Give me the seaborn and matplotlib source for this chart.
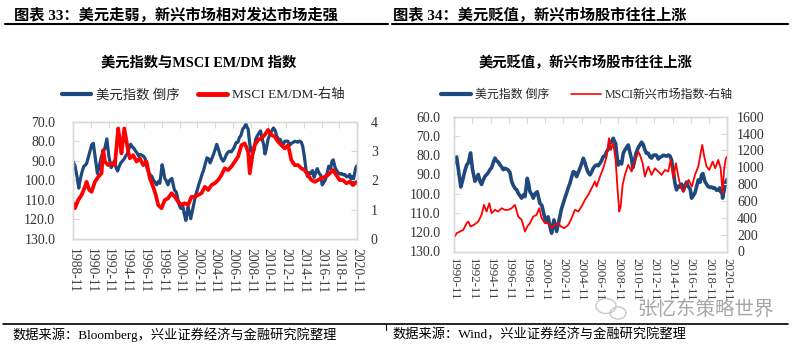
import matplotlib
matplotlib.use('Agg')
import matplotlib.pyplot as plt
import seaborn as sns
from matplotlib.lines import Line2D
from matplotlib.patches import Ellipse

# ---------------- data (decimal years; Nov = .83) ----------------
usd_t = [1988.83, 1989.02, 1989.25, 1989.45, 1989.6, 1989.8, 1990.0, 1990.33, 1990.6, 1990.9,
         1991.09, 1991.38, 1991.55, 1991.75, 1992.0, 1992.2, 1992.37, 1992.62, 1992.84, 1993.1,
         1993.3, 1993.47, 1993.65, 1993.83, 1994.0, 1994.2, 1994.4, 1994.57, 1994.75, 1994.93,
         1995.1, 1995.3, 1995.5, 1995.66, 1995.85, 1996.03, 1996.2, 1996.4, 1996.6, 1996.76,
         1996.95, 1997.13, 1997.3, 1997.5, 1997.7, 1997.86, 1998.05, 1998.23, 1998.45, 1998.6,
         1998.85, 1999.0, 1999.14, 1999.3, 1999.51, 1999.7, 1999.95, 2000.1, 2000.24, 2000.45,
         2000.61, 2000.8, 2000.98, 2001.15, 2001.34, 2001.53, 2001.65, 2001.78, 2001.95, 2002.08,
         2002.25, 2002.44, 2002.6, 2002.81, 2003.0, 2003.17, 2003.35, 2003.54, 2003.75, 2003.91,
         2004.1, 2004.27, 2004.45, 2004.64, 2004.85, 2005.01, 2005.2, 2005.37, 2005.55, 2005.74,
         2005.9, 2006.1, 2006.3, 2006.47, 2006.65, 2006.84, 2007.0, 2007.2, 2007.4, 2007.57,
         2007.75, 2007.94, 2008.1, 2008.3, 2008.45, 2008.56, 2008.7, 2008.85, 2009.0, 2009.22,
         2009.4, 2009.58, 2009.75, 2009.95, 2010.1, 2010.32, 2010.45, 2010.6, 2010.8, 2011.05,
         2011.25, 2011.42, 2011.6, 2011.78, 2011.95, 2012.15, 2012.35, 2012.51, 2012.7, 2012.88,
         2013.05, 2013.25, 2013.45, 2013.61, 2013.8, 2013.98, 2014.15, 2014.35, 2014.55, 2014.71,
         2014.9, 2015.08, 2015.25, 2015.45, 2015.62, 2015.81, 2016.0, 2016.18, 2016.35, 2016.55,
         2016.75, 2016.91, 2017.1, 2017.28, 2017.45, 2017.64, 2017.85, 2018.01, 2018.15, 2018.38,
         2018.55, 2018.74, 2018.95, 2019.11, 2019.3, 2019.47, 2019.65, 2019.84, 2020.0, 2020.1,
         2020.22, 2020.32, 2020.45, 2020.57, 2020.7, 2020.83]
usd_v = [90.5, 92.5, 98, 104, 100, 96, 93, 91.5, 87, 82,
         81, 91, 96.5, 93, 88, 85, 84, 78.8, 87.5, 93.5,
         92, 90, 93.5, 95.2, 93, 91, 90, 89, 87.5, 86.5,
         84, 81.5, 83, 83.5, 85, 86, 87.5, 86.8, 87.2, 87.7,
         89, 93.5, 95.5, 97.2, 98, 99.8, 101, 102.3, 100.5, 101.5,
         92, 95, 98.9, 100, 102.3, 100, 99, 102, 105, 106,
         109.2, 113, 114.4, 112, 117, 120.5, 117, 113.6, 117, 119.6,
         116, 111.8, 108, 105, 102, 99.7, 97, 94.6, 91, 88.5,
         89, 91.1, 89, 86.8, 84, 81.6, 84, 86.8, 89, 90.2,
         89, 86.8, 85.5, 85.1, 85.5, 84.2, 83, 80.7, 80.5, 78.1,
         77, 73.8, 73, 71.2, 73, 73.8, 80, 85.1, 83.5, 84.5,
         79, 77.3, 76, 74.7, 78, 82, 86.5, 84, 79, 76,
         74.5, 73.2, 74.5, 77.3, 79, 79, 81, 81.5, 80, 79.9,
         80, 82, 81, 80.7, 80, 80.2, 80.5, 79.9, 80.5, 82.5,
         88, 94.6, 98, 96, 96.5, 95, 98.5, 96, 94, 96.3,
         97.5, 102.3, 101, 99.5, 96.5, 92.8, 94, 90.2, 89.5, 93.7,
         95, 96.3, 96.8, 96.5, 97.2, 97, 98.2, 98, 97, 99,
         98, 102.3, 99, 96.3, 93.5, 92.5]

emdm_t = [1988.83, 1989.02, 1989.39, 1989.77, 1990.14, 1990.33, 1990.63, 1990.9, 1991.27, 1991.65,
          1992.02, 1992.21, 1992.4, 1992.77, 1993.15, 1993.52, 1993.71, 1993.9, 1994.09, 1994.27,
          1994.58, 1994.84, 1995.03, 1995.21, 1995.59, 1995.97, 1996.34, 1996.72, 1997.09, 1997.47,
          1997.84, 1998.14, 1998.41, 1998.78, 1999.16, 1999.53, 1999.91, 2000.29, 2000.66, 2001.04,
          2001.41, 2001.79, 2002.16, 2002.54, 2002.91, 2003.29, 2003.67, 2004.04, 2004.42, 2004.79,
          2005.17, 2005.54, 2005.92, 2006.3, 2006.67, 2007.05, 2007.42, 2007.8, 2008.17, 2008.55,
          2008.74, 2009.04, 2009.3, 2009.67, 2010.05, 2010.43, 2010.8, 2011.18, 2011.55, 2011.93,
          2012.3, 2012.68, 2013.06, 2013.43, 2013.81, 2014.18, 2014.56, 2014.93, 2015.31, 2015.69,
          2016.06, 2016.44, 2016.81, 2017.19, 2017.56, 2018.13, 2018.5, 2018.88, 2019.25, 2019.63,
          2020.0, 2020.38, 2020.83]
emdm_v = [1.22, 1.05, 1.33, 1.5, 1.78, 1.95, 1.67, 1.61, 1.95, 2.12,
          2.24, 3.03, 2.64, 2.52, 2.58, 2.52, 3.15, 3.77, 3.32, 2.92,
          3.77, 3.32, 2.98, 2.75, 2.86, 2.64, 2.75, 2.52, 2.64, 2.07,
          1.78, 1.5, 1.16, 1.05, 1.33, 1.39, 1.56, 1.44, 1.27, 1.16,
          1.22, 1.16, 1.44, 1.44, 1.5, 1.56, 1.78, 1.67, 1.84, 1.9,
          2.01, 2.18, 2.41, 2.35, 2.47, 2.64, 2.81, 3.2, 3.26, 2.98,
          2.24, 2.86, 3.2, 3.38, 3.43, 3.55, 3.72, 3.55, 3.49, 3.32,
          3.2, 3.09, 3.2, 2.69, 2.52, 2.52, 2.41, 2.35, 2.18, 2.01,
          1.95, 2.01, 2.07, 2.12, 2.18, 2.35, 2.18, 2.01, 2.01, 1.9,
          1.95, 1.84, 1.95]

msci_em_t = [1990.9, 1991.09, 1991.45, 1991.82, 1992.19, 1992.37, 1992.62, 1992.99, 1993.47, 1993.83,
             1994.09, 1994.38, 1994.68, 1994.93, 1995.3, 1995.66, 1996.03, 1996.4, 1996.76, 1997.13,
             1997.5, 1997.86, 1998.23, 1998.6, 1998.85, 1999.14, 1999.51, 1999.88, 2000.17, 2000.43,
             2000.79, 2001.16, 2001.53, 2001.89, 2002.26, 2002.55, 2002.92, 2003.36, 2003.72, 2004.09,
             2004.46, 2004.82, 2005.19, 2005.56, 2005.92, 2006.29, 2006.47, 2006.84, 2007.2, 2007.57,
             2007.83, 2008.05, 2008.3, 2008.56, 2008.78, 2008.96, 2009.11, 2009.33, 2009.58, 2009.95,
             2010.32, 2010.68, 2011.05, 2011.23, 2011.53, 2011.78, 2012.15, 2012.51, 2012.88, 2013.25,
             2013.61, 2013.98, 2014.35, 2014.6, 2014.9, 2015.19, 2015.45, 2015.7, 2016.0, 2016.29,
             2016.58, 2016.95, 2017.28, 2017.64, 2017.9, 2018.08, 2018.3, 2018.56, 2018.85, 2019.22,
             2019.51, 2019.84, 2020.1, 2020.32, 2020.47, 2020.68, 2020.83]
msci_em_v = [178, 217, 237, 257, 336, 356, 296, 316, 356, 435,
             553, 474, 573, 455, 494, 474, 514, 494, 494, 514,
             553, 415, 376, 237, 296, 336, 415, 435, 514, 395,
             336, 336, 277, 316, 336, 296, 277, 316, 395, 494,
             474, 534, 613, 672, 751, 830, 771, 889, 988, 1127,
             1344, 1206, 1285, 1087, 731, 474, 534, 791, 909, 1028,
             949, 1067, 1186, 1146, 1048, 889, 1008, 909, 988, 949,
             909, 968, 949, 1087, 870, 1048, 889, 771, 711, 791,
             850, 771, 909, 1008, 1166, 1265, 1127, 1008, 968, 1067,
             988, 1087, 988, 692, 968, 1107, 1127]

left_years = list(range(1988, 2021, 2))
right_years = list(range(1990, 2021, 2))
left_yticks = [70, 80, 90, 100, 110, 120, 130]
left_y2ticks = [0, 1, 2, 3, 4]
right_yticks = [60, 70, 80, 90, 100, 110, 120, 130]
right_y2ticks = [0, 200, 400, 600, 800, 1000, 1200, 1400, 1600]

header_left = '图表 33：美元走弱，新兴市场相对发达市场走强'
header_right = '图表 34：美元贬值，新兴市场股市往往上涨'
title_left = '美元指数与MSCI EM/DM 指数'
title_right = '美元贬值，新兴市场股市往往上涨'
legend_left = ['美元指数 倒序', 'MSCI EM/DM-右轴']
legend_right = ['美元指数 倒序', 'MSCI新兴市场指数-右轴']
source_left = '数据来源：Bloomberg，兴业证券经济与金融研究院整理'
source_right = '数据来源：Wind，兴业证券经济与金融研究院整理'
watermark = '张忆东策略世界'

# ---------------- style ----------------
sns.set_theme(style='white')
FAM = ['Liberation Serif', 'Noto Sans CJK SC']
plt.rcParams['font.family'] = FAM
plt.rcParams['axes.unicode_minus'] = False

BLUE = '#1F497D'
RED = '#FF0000'
FRAME = '#D9D9D9'
TXT = '#333333'
W, H = 800, 346
NOV = 10 / 12


def px_box(x0, y0, x1, y1):
    return [x0 / W, 1 - y1 / H, (x1 - x0) / W, (y1 - y0) / H]


fig = plt.figure(figsize=(8, 3.46), dpi=100)
fig.patch.set_facecolor('white')


def make_chart(box, usd_lw, red_t, red_v, red_lw, years, yt, ylim, y2t, y2lim,
               y2fmt, xpad, ypad, y2pad, xfs):
    ax = fig.add_axes(box)
    sns.lineplot(x=usd_t, y=usd_v, ax=ax, color=BLUE, linewidth=usd_lw,
                 estimator=None, sort=False)
    ax2 = ax.twinx()
    sns.lineplot(x=red_t, y=red_v, ax=ax2, color=RED, linewidth=red_lw,
                 estimator=None, sort=False)
    ax.set_xlim(years[0] + NOV, years[-1] + NOV)
    ax.set_xticks([y + NOV for y in years])
    ax.set_xticklabels([f'{y}-11' for y in years], rotation=270, fontsize=xfs,
                       color='#404040', va='top', ha='center')
    ax.tick_params(axis='x', bottom=False, top=True, direction='in', length=4,
                   color=FRAME, width=0.8, labelbottom=True, labeltop=False, pad=xpad)
    ax.set_ylim(*ylim)
    ax.set_yticks(yt)
    ax.set_yticklabels([f'{v:.1f}' for v in yt])
    ax.tick_params(axis='y', left=True, direction='in', length=4, color=FRAME,
                   width=0.8, labelsize=10, labelcolor=TXT, pad=ypad)
    ax2.set_ylim(*y2lim)
    ax2.set_yticks(y2t)
    ax2.set_yticklabels([y2fmt(v) for v in y2t])
    ax2.tick_params(axis='y', right=True, direction='in', length=4, color=FRAME,
                    width=0.8, labelsize=10, labelcolor=TXT, pad=y2pad)
    for a in (ax, ax2):
        a.set_xlabel('')
        a.set_ylabel('')
        a.grid(False)
        for s in a.spines.values():
            s.set_color(FRAME)
            s.set_linewidth(1.0)
    return ax, ax2


make_chart(px_box(73.3, 121.7, 357.0, 239.0), 2.3, emdm_t, emdm_v, 2.7,
           left_years, left_yticks, (130, 70), left_y2ticks, (0, 4),
           lambda v: f'{v:d}', 6.5, 13, 10, 9.8)
make_chart(px_box(454.3, 116.7, 727.3, 251.5), 2.6, msci_em_t, msci_em_v, 1.3,
           right_years, right_yticks, (130, 60), right_y2ticks, (0, 1600),
           lambda v: f'{v:d}', 5, 10, 7, 9.3)

# ---------------- text & decorations ----------------
fig.text(14 / W, 1 - 15.5 / H, header_left, ha='left', va='center', fontsize=11,
         fontweight='bold', color='black')
fig.text(393 / W, 1 - 15.5 / H, header_right, ha='left', va='center', fontsize=11,
         fontweight='bold', color='black')
fig.add_artist(Line2D([5 / W, 388 / W], [1 - 24 / H, 1 - 24 / H], color='black', lw=1.5,
                      transform=fig.transFigure))
fig.add_artist(Line2D([392 / W, 788 / W], [1 - 24 / H, 1 - 24 / H], color='black', lw=1.5,
                      transform=fig.transFigure))

fig.text(199 / W, 1 - 63 / H, title_left, ha='center', va='center', fontsize=10.3,
         fontweight='bold', color='black')
fig.text(585 / W, 1 - 63 / H, title_right, ha='center', va='center', fontsize=10.3,
         fontweight='bold', color='black')

hl = [Line2D([], [], color=BLUE, lw=3), Line2D([], [], color=RED, lw=3.5)]
fig.legend(hl, legend_left, loc='center', bbox_to_anchor=(203 / W, 1 - 95 / H), ncol=2,
           frameon=False, fontsize=9.6, handlelength=2.2, handletextpad=0.35,
           columnspacing=1.4, borderpad=0, borderaxespad=0, labelcolor='#262626')
hr = [Line2D([], [], color=BLUE, lw=3), Line2D([], [], color=RED, lw=1.2)]
fig.legend(hr, legend_right, loc='center', bbox_to_anchor=(587 / W, 1 - 95 / H), ncol=2,
           frameon=False, fontsize=8.6, handlelength=2.5, handletextpad=0.35,
           columnspacing=1.8, borderpad=0, borderaxespad=0, labelcolor='#262626')

# bottom rule and sources
fig.add_artist(Line2D([3 / W, 788 / W], [1 - 324 / H, 1 - 324 / H], color='black', lw=1.2,
                      transform=fig.transFigure))
fig.add_artist(Line2D([386 / W, 386 / W], [1 - 324 / H, 1 - 330 / H], color='black', lw=0.8,
                      transform=fig.transFigure))
fig.text(12 / W, 1 - 334.5 / H, source_left, ha='left', va='center', fontsize=9.5, color='black')
fig.text(392 / W, 1 - 334.5 / H, source_right, ha='left', va='center', fontsize=9.5, color='black')

# watermark
fig.add_artist(Ellipse((606 / W, 1 - 306 / H), 20 / W, 15 / H, fill=False,
                       edgecolor='#c8c8c8', lw=1, transform=fig.transFigure))
fig.add_artist(Ellipse((618 / W, 1 - 313 / H), 16 / W, 12 / H, fill=False,
                       edgecolor='#c8c8c8', lw=1, transform=fig.transFigure))
fig.text(637 / W, 1 - 309 / H, watermark, ha='left', va='center', fontsize=14,
         color='#a6a6a6', family=['Noto Sans CJK SC'])

fig.savefig('out.png', dpi=100, facecolor='white')
